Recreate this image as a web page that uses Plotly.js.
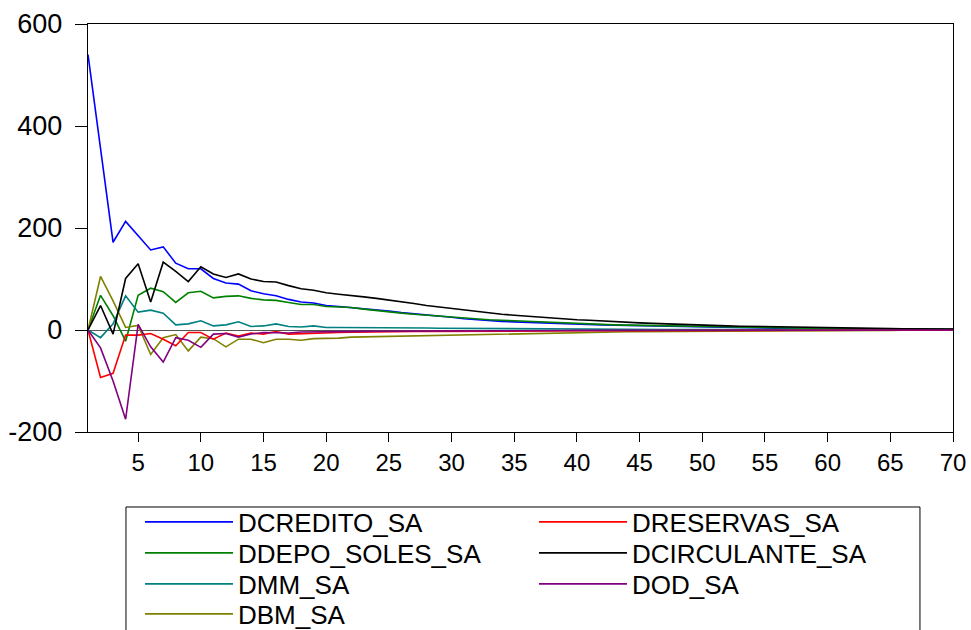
<!DOCTYPE html>
<html>
<head>
<meta charset="utf-8">
<script src="https://cdn.plot.ly/plotly-3.0.1.min.js"></script>
<style>
  html, body { margin: 0; padding: 0; background: #ffffff; }
  #chart { width: 971px; height: 630px; }
</style>
</head>
<body>
<div id="chart"></div>
<script>
// Response horizon (periods)
const periods = [
  1, 2, 3, 4, 5, 6, 7, 8, 9, 10,
  11, 12, 13, 14, 15, 16, 17, 18, 19, 20,
  21, 22, 23, 24, 25, 26, 27, 28, 29, 30,
  31, 32, 33, 34, 35, 36, 37, 38, 39, 40,
  41, 42, 43, 44, 45, 46, 47, 48, 49, 50,
  51, 52, 53, 54, 55, 56, 57, 58, 59, 60,
  61, 62, 63, 64, 65, 66, 67, 68, 69, 70
];

// Value-axis ticks and their labels (plain hyphen for negatives)
const yTickValues = [-200, 0, 200, 400, 600];
const yTickLabels = ['-200', '0', '200', '400', '600'];

const dcredito = [
  540, 355, 172, 213, 185, 157, 163, 131, 120, 120,
  101, 92, 90, 77, 71, 67, 60, 55, 53, 48,
  46, 44, 42, 39, 37, 34, 32, 30, 27, 25,
  22, 20, 18.5, 17, 16, 15, 14, 13, 12.5, 12,
  11, 10, 9.5, 9, 8, 7.5, 7, 6.5, 6, 5.5,
  5, 4.7, 4.3, 4, 3.7, 3.4, 3.1, 2.9, 2.6, 2.4,
  2.2, 2, 1.8, 1.7, 1.5, 1.4, 1.3, 1.2, 1.1, 1
];

const ddepoSoles = [
  0, 68, 28, -22, 68, 82, 75, 54, 73, 76,
  63, 66, 67, 62, 59, 58, 54, 50, 50, 46,
  45, 44, 41, 38, 35.5, 33, 31, 29, 27, 25.5,
  23, 21.5, 20, 19, 18, 17, 15.5, 14.5, 13, 12,
  11.5, 11, 10, 9.5, 9, 8.5, 8, 7.5, 7, 6.5,
  6, 5.5, 5, 4.7, 4.3, 4, 3.7, 3.4, 3.1, 2.9,
  2.7, 2.5, 2.3, 2.1, 1.9, 1.8, 1.6, 1.5, 1.4, 1.3
];

const dmm = [
  0, -15, 12, 67, 35, 39, 33, 10, 12, 18,
  8, 10, 16, 7, 8, 12, 7, 6, 8, 5,
  5, 5, 5, 4.5, 4.5, 4, 4, 3.8, 3.5, 3.3,
  3, 2.8, 2.6, 2.5, 2.3, 2.2, 2, 1.9, 1.8, 1.7,
  1.6, 1.5, 1.4, 1.3, 1.2, 1.1, 1, 1, 0.9, 0.9,
  0.8, 0.8, 0.7, 0.7, 0.6, 0.6, 0.5, 0.5, 0.5, 0.4,
  0.4, 0.4, 0.3, 0.3, 0.3, 0.3, 0.2, 0.2, 0.2, 0.2
];

const dbm = [
  0, 105, 57, 5, 9, -48, -15, -9, -41, -14,
  -17, -33, -18, -18, -25, -18, -18, -20, -17, -17,
  -16, -14, -13.5, -13, -12, -11.5, -11, -10, -9.5, -9,
  -8.5, -8, -7.5, -7, -6.5, -6, -5.5, -5, -4.8, -4.5,
  -4.2, -4, -3.7, -3.5, -3.2, -3, -2.8, -2.6, -2.4, -2.2,
  -2, -1.9, -1.8, -1.6, -1.5, -1.4, -1.3, -1.2, -1.1, -1,
  -0.9, -0.9, -0.8, -0.7, -0.7, -0.6, -0.6, -0.5, -0.5, -0.5
];

const dreservas = [
  0, -93, -85, -10, -10, -7, -18, -31, -5, -5,
  -18, -6, -12, -6, -8, -3, -8, -7, -6, -5,
  -5, -4.5, -4, -4, -3.5, -3.5, -3, -3, -3, -2.8,
  -2.6, -2.5, -2.4, -2.3, -2.2, -2.1, -2, -1.9, -1.8, -1.7,
  -1.6, -1.5, -1.4, -1.3, -1.2, -1.1, -1.1, -1, -1, -0.9,
  -0.9, -0.8, -0.8, -0.7, -0.7, -0.6, -0.6, -0.6, -0.5, -0.5,
  -0.5, -0.4, -0.4, -0.4, -0.3, -0.3, -0.3, -0.3, -0.2, -0.2
];

const dcirculante = [
  0, 48, -8, 101, 130, 55, 133, 115, 95, 124,
  110, 103, 110, 100, 95, 94, 87, 81, 78, 73,
  70, 68, 65, 62, 59, 56, 52, 48, 45, 42,
  39, 36, 34, 31, 29, 27, 25, 23, 22, 20,
  19, 17.5, 16, 15, 14, 13, 12, 11, 10, 9.5,
  9, 8, 7.5, 7, 6.3, 5.8, 5.3, 4.9, 4.5, 4.1,
  3.8, 3.5, 3.2, 2.9, 2.7, 2.5, 2.3, 2.1, 1.9, 1.7
];

const dod = [
  0, -35, -100, -175, 11, -33, -63, -15, -20, -34,
  -8, -7, -14, -8, -5, -6, -6, -4, -4, -3,
  -3, -2.8, -2.6, -2.4, -2.2, -2, -1.9, -1.8, -1.7, -1.6,
  -1.5, -1.4, -1.3, -1.2, -1.1, -1, -1, -0.9, -0.9, -0.8,
  -0.8, -0.7, -0.7, -0.6, -0.6, -0.5, -0.5, -0.5, -0.4, -0.4,
  -0.4, -0.3, -0.3, -0.3, -0.3, -0.2, -0.2, -0.2, -0.2, -0.2,
  -0.1, -0.1, -0.1, -0.1, -0.1, -0.1, -0.1, -0.1, -0.1, 0
];

const seriesNames = ['DCREDITO_SA', 'DDEPO_SOLES_SA', 'DMM_SA', 'DBM_SA',
                     'DRESERVAS_SA', 'DCIRCULANTE_SA', 'DOD_SA'];
const seriesValues = [dcredito, ddepoSoles, dmm, dbm, dreservas, dcirculante, dod];
const seriesColors = ['#0000ff', '#008000', '#008080', '#808000',
                      '#ff0000', '#000000', '#800080'];
// legend row each series is listed in (two entries per row)
const seriesLegend = ['legend', 'legend2', 'legend3', 'legend4',
                      'legend', 'legend2', 'legend3'];

const traces = seriesNames.map((name, i) => ({
  type: 'scatter',
  mode: 'lines',
  name: name,
  x: periods,
  y: seriesValues[i],
  line: { color: seriesColors[i], width: 1.6 },
  legend: seriesLegend[i],
  hoverinfo: 'x+y+name'
}));

const FONT = 'Liberation Sans, Arial, Helvetica, sans-serif';

function legendRow(yPos) {
  return {
    orientation: 'h',
    x: 0.0601, xanchor: 'left',
    y: yPos, yanchor: 'middle',
    font: { family: FONT, size: 26, color: '#000000' },
    itemwidth: 88,
    entrywidth: 291,
    bgcolor: 'rgba(0,0,0,0)',
    borderwidth: 0,
    traceorder: 'normal'
  };
}

const layout = {
  width: 971,
  height: 630,
  margin: { l: 88, r: 18, t: 24, b: 198, pad: 0, autoexpand: false },
  paper_bgcolor: '#ffffff',
  plot_bgcolor: '#ffffff',
  font: { family: FONT, color: '#000000' },
  showlegend: true,
  xaxis: {
    range: [1, 70],
    tick0: 5,
    dtick: 5,
    ticks: 'outside',
    ticklen: 9,
    tickwidth: 1,
    tickcolor: '#000000',
    ticklabelstandoff: 0,
    showline: true,
    mirror: true,
    linecolor: '#000000',
    linewidth: 1.3,
    showgrid: false,
    zeroline: false,
    tickfont: { family: FONT, size: 24, color: '#000000' }
  },
  yaxis: {
    range: [-200, 600],
    tickmode: 'array',
    tickvals: yTickValues,
    ticktext: yTickLabels,
    ticks: 'outside',
    ticklen: 12,
    tickwidth: 1,
    tickcolor: '#000000',
    ticklabelstandoff: 7,
    showline: true,
    mirror: true,
    linecolor: '#000000',
    linewidth: 1.3,
    showgrid: false,
    zeroline: true,
    zerolinecolor: '#555555',
    zerolinewidth: 1,
    tickfont: { family: FONT, size: 27, color: '#000000' }
  },
  legend: legendRow(-0.2206),
  legend2: legendRow(-0.2966),
  legend3: legendRow(-0.3725),
  legend4: legendRow(-0.4461),
  shapes: [{
    // frame around the legend block
    type: 'rect',
    xref: 'paper', yref: 'paper',
    x0: 0.0439, x1: 0.9618,
    y0: -0.1838, y1: -0.56,
    line: { color: '#000000', width: 1 },
    fillcolor: 'rgba(0,0,0,0)'
  }]
};

Plotly.newPlot('chart', traces, layout, { displayModeBar: false, staticPlot: true });
</script>
</body>
</html>
